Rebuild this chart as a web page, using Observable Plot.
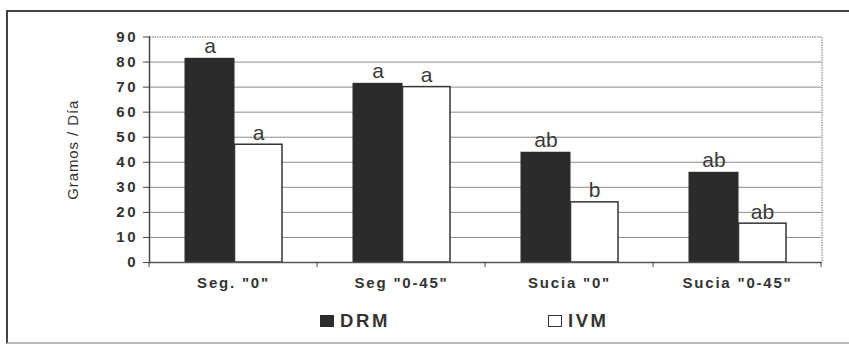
<!DOCTYPE html>
<html>
<head>
<meta charset="utf-8">
<script src="https://cdn.jsdelivr.net/npm/d3@7"></script>
<script src="https://cdn.jsdelivr.net/npm/@observablehq/plot@0.6"></script>
<style>
  body { margin: 0; background: #fff; }
  #wrap { position: relative; width: 849px; height: 345px; overflow: hidden; background: #fff;
          font-family: Arial, "Liberation Sans", sans-serif; color: #333; }
  #frame { position: absolute; left: 6px; top: 10px; width: 900px; height: 330px;
           border: 2px solid #444; border-bottom-color: #bbb; }
  #chart { position: absolute; left: 0; top: 0; }
  #legend { position: absolute; left: 320px; top: 310px; display: flex; align-items: center;
            font-weight: bold; font-size: 18.5px; letter-spacing: 2.6px; color: #333; }
  .item { display: flex; align-items: center; }
  .sw { width: 14px; height: 12px; margin-right: 6px; box-sizing: border-box; }
  [aria-label="y-axis tick label"] text { font-size: 15px; font-weight: bold; letter-spacing: 2.5px; }
  [aria-label="x-axis tick label"] text { font-size: 15px; font-weight: bold; letter-spacing: 1.8px; }
  [aria-label="y-axis label"] text { font-weight: normal; font-size: 15px; letter-spacing: 0.9px; }
</style>
</head>
<body>
<div id="wrap">
  <div id="frame"></div>
  <div id="chart"></div>
  <div id="legend"></div>
</div>
<script>
const categories = ['Seg. "0"', 'Seg "0-45"', 'Sucia "0"', 'Sucia "0-45"'];
const seriesNames = ["DRM", "IVM"];
const drmValues = [81.5, 71.5, 44, 36];
const ivmValues = [47, 70, 24, 15.5];
const drmLetters = ["a", "a", "ab", "ab"];
const ivmLetters = ["a", "a", "b", "ab"];
const yTicks = [0, 10, 20, 30, 40, 50, 60, 70, 80, 90];
const yTitle = "Gramos / Día";

const drmRows = categories.map((c, i) => ({cat: c, value: drmValues[i], letter: drmLetters[i]}));
const ivmRows = categories.map((c, i) => ({cat: c, value: ivmValues[i], letter: ivmLetters[i]}));

const chart = Plot.plot({
  width: 849,
  height: 300,
  marginLeft: 149,
  marginRight: 27.5,
  marginTop: 36.5,
  marginBottom: 38,
  style: {fontFamily: "Arial, 'Liberation Sans', sans-serif", color: "#333", background: "transparent", overflow: "visible"},
  x: {domain: categories, padding: 0, label: null},
  y: {domain: [0, 90], label: null},
  marks: [
    Plot.gridY(yTicks.filter(t => t > 0 && t < 90), {stroke: "#8c8c8c", strokeOpacity: 1}),
    Plot.frame({stroke: "#777", strokeDasharray: "1.5,1"}),
    Plot.barY(drmRows, {x: "cat", y: "value", fill: "#2b2b2b", insetLeft: 35.5, insetRight: 82.5}),
    Plot.barY(ivmRows, {x: "cat", y: "value", fill: "#fff", stroke: "#333", strokeWidth: 1.5, insetLeft: 85.5, insetRight: 35}),
    Plot.text(drmRows, {x: "cat", y: "value", text: "letter", dx: -23.5, dy: -5, lineAnchor: "bottom", fontSize: 21, fill: "#3a3a3a"}),
    Plot.text(ivmRows, {x: "cat", y: "value", text: "letter", dx: 25, dy: -5, lineAnchor: "bottom", fontSize: 21, fill: "#3a3a3a"}),
    Plot.ruleY([0], {stroke: "#555", strokeWidth: 1.5}),
    Plot.frame({anchor: "left", stroke: "#444", strokeWidth: 1.5}),
    Plot.axisY(yTicks, {tickSize: 6, tickPadding: 5.5, fontSize: 15, fontWeight: "bold", stroke: "#444",
      label: yTitle, labelAnchor: "center", labelOffset: 82, labelArrow: "none"}),
    Plot.axisX({tickSize: 0, tickPadding: 15, fontSize: 15, fontWeight: "bold"})
  ]
});

// tick marks at the category boundaries, from the x band scale
const xs = chart.scale("x");
const y0 = chart.scale("y").apply(0);
const bounds = categories.map(c => xs.apply(c)).concat([xs.apply(categories[categories.length - 1]) + xs.bandwidth]);
d3.select(chart).append("g").attr("stroke", "#444")
  .selectAll("line").data(bounds).join("line")
  .attr("x1", d => d).attr("x2", d => d).attr("y1", y0).attr("y2", y0 + 5);

document.getElementById("chart").appendChild(chart);

// legend
const legend = d3.select("#legend");
const swatchStyles = {
  DRM: {background: "#2b2b2b", border: "none"},
  IVM: {background: "#fff", border: "1.5px solid #333"}
};
seriesNames.forEach((s, i) => {
  const item = legend.append("div").attr("class", "item").style("margin-left", i ? "158px" : "0px");
  item.append("div").attr("class", "sw")
    .style("background", swatchStyles[s].background)
    .style("border", swatchStyles[s].border);
  item.append("span").text(s);
});
</script>
</body>
</html>
